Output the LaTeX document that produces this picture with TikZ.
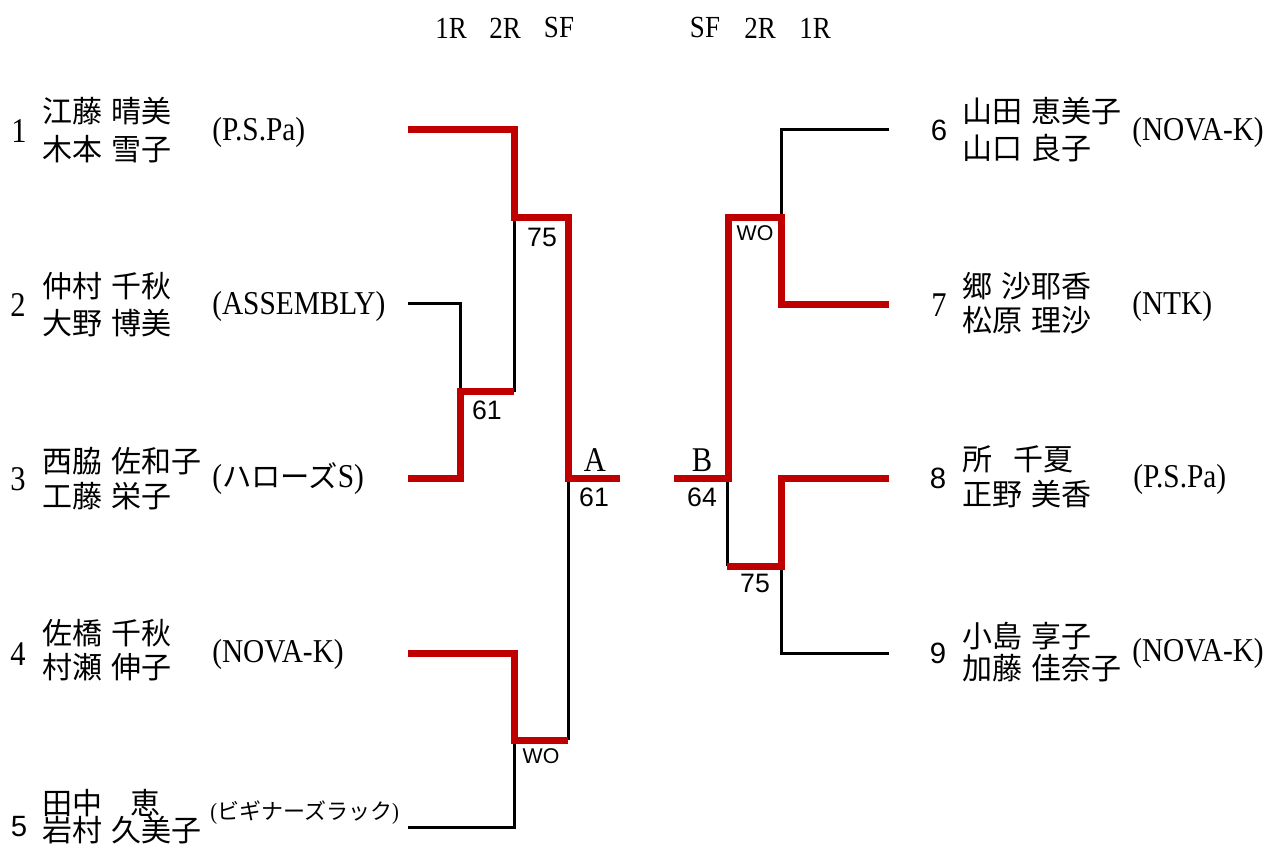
\documentclass[tikz,border=0pt]{standalone}
\usepackage{fontspec}
\setmainfont{Liberation Serif}
\newfontfamily\clubfont[FakeStretch=0.88]{Liberation Serif}
\newfontfamily\jpfont{Noto Sans CJK JP}
\newfontfamily\sansnum{Liberation Sans}
\definecolor{winred}{RGB}{192,0,0}
\newcommand\gp{\hspace{0.3em}}
\begin{document}
\begin{tikzpicture}[x=0.75pt,y=-0.75pt,
  namelbl/.style={anchor=west, inner sep=0pt, font=\jpfont\fontsize{22.5pt}{26pt}\selectfont},
  clublbl/.style={anchor=west, inner sep=0pt, font=\clubfont\fontsize{25pt}{28pt}\selectfont},
  serifnum/.style={inner sep=0pt, font=\clubfont\fontsize{26pt}{28pt}\selectfont},
  sansnumlbl/.style={inner sep=0pt, font=\sansnum\fontsize{22pt}{26pt}\selectfont},
  roundlbl/.style={inner sep=0pt, font=\clubfont\fontsize{23pt}{26pt}\selectfont},
  scorelbl/.style={inner sep=0pt, font=\sansnum\fontsize{20pt}{24pt}\selectfont},
  wolbl/.style={inner sep=0pt, font=\sansnum\fontsize{16pt}{20pt}\selectfont},
  finallbl/.style={inner sep=0pt, font=\clubfont\fontsize{26pt}{28pt}\selectfont},
  loseline/.style={draw=black, line width=2.25pt, line join=miter},
  winline/.style={draw=winred, line width=5.25pt, line join=miter},
]
\useasboundingbox (0,0) rectangle (1279,859);

% round headers
\node[roundlbl] (hl1) at (451,28) {1R};
\node[roundlbl] (hl2) at (505,28) {2R};
\node[roundlbl] (hl3) at (559,28) {SF};
\node[roundlbl] (hr3) at (705,28) {SF};
\node[roundlbl] (hr2) at (760,28) {2R};
\node[roundlbl] (hr1) at (815,28) {1R};

% left players
\node[serifnum] (no1) at (19,131) {1};
\node[namelbl] (n1a) at (42,111) {江藤\gp 晴美};
\node[namelbl] (n1b) at (42,149) {木本\gp 雪子};
\node[clublbl] (c1) at (212,132) {(P.S.Pa)};

\node[serifnum] (no2) at (18,305) {2};
\node[namelbl] (n2a) at (42,286) {仲村\gp 千秋};
\node[namelbl] (n2b) at (42,323) {大野\gp 博美};
\node[clublbl] (c2) at (212,306) {(ASSEMBLY)};

\node[serifnum] (no3) at (18,479) {3};
\node[namelbl] (n3a) at (42,461) {西脇\gp 佐和子};
\node[namelbl] (n3b) at (42,496) {工藤\gp 栄子};
\node[clublbl] (c3) at (212,479) {({\jpfont\fontsize{22pt}{26pt}\selectfont ハローズ}S)};

\node[serifnum] (no4) at (18,654) {4};
\node[namelbl] (n4a) at (42,633) {佐橋\gp 千秋};
\node[namelbl] (n4b) at (42,667) {村瀬\gp 伸子};
\node[clublbl] (c4) at (212,654) {(NOVA-K)};

\node[sansnumlbl] (no5) at (19,827) {5};
\node[namelbl] (n5a) at (42,803) {田中\hspace{0.95em}恵};
\node[namelbl] (n5b) at (42,830) {岩村\gp 久美子};
\node[clublbl, font=\clubfont\fontsize{17.5pt}{20pt}\selectfont] (c5) at (210,813) {({\jpfont\fontsize{16.5pt}{20pt}\selectfont ビギナーズラック})};

% right players
\node[sansnumlbl] (no6) at (939,130) {6};
\node[namelbl] (n6a) at (962,111) {山田\gp 恵美子};
\node[namelbl] (n6b) at (962,148) {山口\gp 良子};
\node[clublbl] (c6) at (1132,132) {(NOVA-K)};

\node[serifnum] (no7) at (939,305) {7};
\node[namelbl] (n7a) at (962,286) {郷\gp 沙耶香};
\node[namelbl] (n7b) at (962,320) {松原\gp 理沙};
\node[clublbl] (c7) at (1132,306) {(NTK)};

\node[sansnumlbl] (no8) at (938,478) {8};
\node[namelbl] (n8a) at (962,459) {所\hspace{0.7em}千夏};
\node[namelbl] (n8b) at (962,494) {正野\gp 美香};
\node[clublbl] (c8) at (1133,479) {(P.S.Pa)};

\node[sansnumlbl] (no9) at (938,653) {9};
\node[namelbl] (n9a) at (962,636) {小島\gp 享子};
\node[namelbl] (n9b) at (962,668) {加藤\gp 佳奈子};
\node[clublbl] (c9) at (1132,653) {(NOVA-K)};

% bracket coordinates
\coordinate (L1) at (408,130);
\coordinate (L2) at (408,304);
\coordinate (L3) at (408,478);
\coordinate (L4) at (408,653);
\coordinate (L5) at (408,827);
\coordinate (R6) at (889,130);
\coordinate (R7) at (889,305);
\coordinate (R8) at (889,478);
\coordinate (R9) at (889,653);
\coordinate (FA) at (620,478);
\coordinate (FB) at (674,478);

% black (losing) lines
\draw[loseline] (L2) -- (460,304) -- (460,392);
\draw[loseline] (514,392) -- (514,218);
\draw[loseline] (L5) -- (514,827) -- (514,740);
\draw[loseline] (568,740) -- (568,478);
\draw[loseline] (R6) -- (781,130) -- (781,218);
\draw[loseline] (R9) -- (781,653) -- (781,566);
\draw[loseline] (727,566) -- (727,478);

% red (winning) lines
\draw[winline] (L1) -- (514,130) -- (514,218) -- (568,218) -- (568,478) -- (FA);
\draw[winline] (L3) -- (460,478) -- (460,392) -- (514,392);
\draw[winline] (L4) -- (514,653) -- (514,740) -- (568,740);
\draw[winline] (R7) -- (781,305) -- (781,218) -- (728,218) -- (728,478) -- (FB);
\draw[winline] (R8) -- (781,478) -- (781,566) -- (727,566);

% scores
\node[scorelbl] (s75l) at (542,237) {75};
\node[scorelbl] (s61l) at (487,410) {61};
\node[wolbl] (swol) at (541,756) {WO};
\node[finallbl] (fa) at (595,460) {A};
\node[scorelbl] (s61a) at (594,497) {61};
\node[finallbl] (fb) at (702,460) {B};
\node[scorelbl] (s64b) at (702,497) {64};
\node[wolbl] (swor) at (755,233) {WO};
\node[scorelbl] (s75r) at (755,583) {75};
\end{tikzpicture}
\end{document}
